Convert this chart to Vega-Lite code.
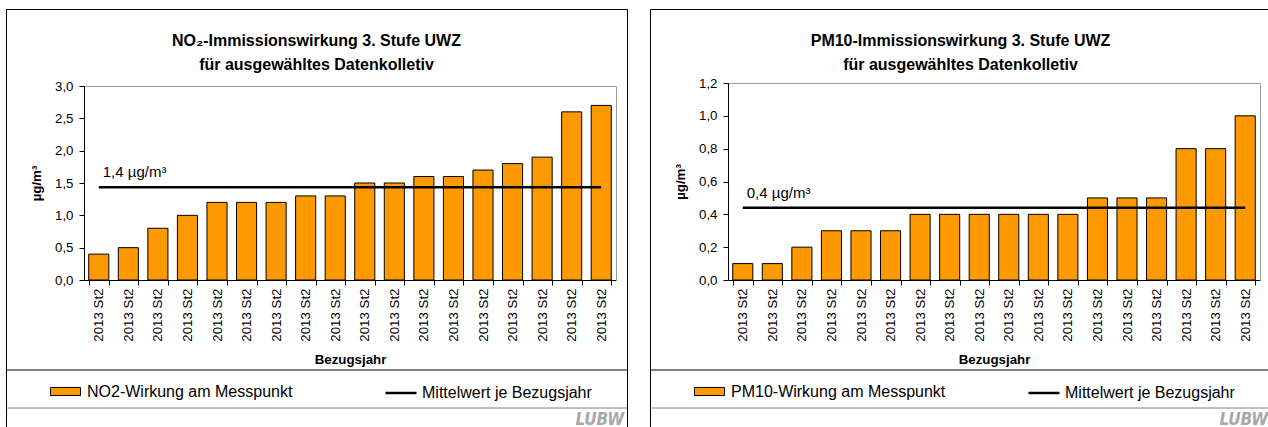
{
  "$schema": "https://vega.github.io/schema/vega-lite/v6.json",
  "padding": {"left": -2, "top": 8, "right": 0, "bottom": 0},
  "background": "white",
  "spacing": 14,
  "datasets": {
    "no2": [
      {"id": "2013 St2 #01", "label": "2013 St2", "v": 0.4},
      {"id": "2013 St2 #02", "label": "2013 St2", "v": 0.5},
      {"id": "2013 St2 #03", "label": "2013 St2", "v": 0.8},
      {"id": "2013 St2 #04", "label": "2013 St2", "v": 1.0},
      {"id": "2013 St2 #05", "label": "2013 St2", "v": 1.2},
      {"id": "2013 St2 #06", "label": "2013 St2", "v": 1.2},
      {"id": "2013 St2 #07", "label": "2013 St2", "v": 1.2},
      {"id": "2013 St2 #08", "label": "2013 St2", "v": 1.3},
      {"id": "2013 St2 #09", "label": "2013 St2", "v": 1.3},
      {"id": "2013 St2 #10", "label": "2013 St2", "v": 1.5},
      {"id": "2013 St2 #11", "label": "2013 St2", "v": 1.5},
      {"id": "2013 St2 #12", "label": "2013 St2", "v": 1.6},
      {"id": "2013 St2 #13", "label": "2013 St2", "v": 1.6},
      {"id": "2013 St2 #14", "label": "2013 St2", "v": 1.7},
      {"id": "2013 St2 #15", "label": "2013 St2", "v": 1.8},
      {"id": "2013 St2 #16", "label": "2013 St2", "v": 1.9},
      {"id": "2013 St2 #17", "label": "2013 St2", "v": 2.6},
      {"id": "2013 St2 #18", "label": "2013 St2", "v": 2.7}
    ],
    "pm10": [
      {"id": "2013 St2 #01", "label": "2013 St2", "v": 0.1},
      {"id": "2013 St2 #02", "label": "2013 St2", "v": 0.1},
      {"id": "2013 St2 #03", "label": "2013 St2", "v": 0.2},
      {"id": "2013 St2 #04", "label": "2013 St2", "v": 0.3},
      {"id": "2013 St2 #05", "label": "2013 St2", "v": 0.3},
      {"id": "2013 St2 #06", "label": "2013 St2", "v": 0.3},
      {"id": "2013 St2 #07", "label": "2013 St2", "v": 0.4},
      {"id": "2013 St2 #08", "label": "2013 St2", "v": 0.4},
      {"id": "2013 St2 #09", "label": "2013 St2", "v": 0.4},
      {"id": "2013 St2 #10", "label": "2013 St2", "v": 0.4},
      {"id": "2013 St2 #11", "label": "2013 St2", "v": 0.4},
      {"id": "2013 St2 #12", "label": "2013 St2", "v": 0.4},
      {"id": "2013 St2 #13", "label": "2013 St2", "v": 0.5},
      {"id": "2013 St2 #14", "label": "2013 St2", "v": 0.5},
      {"id": "2013 St2 #15", "label": "2013 St2", "v": 0.5},
      {"id": "2013 St2 #16", "label": "2013 St2", "v": 0.8},
      {"id": "2013 St2 #17", "label": "2013 St2", "v": 0.8},
      {"id": "2013 St2 #18", "label": "2013 St2", "v": 1.0}
    ],
    "no2mean": [
      {"from": "2013 St2 #01", "to": "2013 St2 #18", "mean": 1.433, "text": "1,4 µg/m³"}
    ],
    "pm10mean": [
      {"from": "2013 St2 #01", "to": "2013 St2 #18", "mean": 0.44, "text": "0,4 µg/m³"}
    ],
    "logo": [
      {"at": "2013 St2 #18", "logo": "LUBW"}
    ]
  },
  "hconcat": [
    {
      "width": 621,
      "height": 420,
      "title": {"text": ["NO₂-Immissionswirkung 3. Stufe UWZ", "für ausgewähltes Datenkolletiv"]},
      "resolve": {"axis": {"x": "independent", "y": "independent"}},
      "layer": [
        {
          "data": {"name": "no2"},
          "mark": {"type": "bar", "stroke": "black", "strokeWidth": 1},
          "encoding": {
            "x": {"field": "id", "type": "ordinal",
              "scale": {"range": [78, 610], "paddingInner": 0.32, "paddingOuter": 0.16},
              "axis": {"orient": "bottom", "offset": -149, "labelAngle": -90, "tickBand": "extent", "tickSize": 5, "labelPadding": 3,
                "labelExpr": "split(datum.label, ' #')[0]", "title": "Bezugsjahr", "titlePadding": 11}},
            "y": {"field": "v", "type": "quantitative",
              "scale": {"domain": [0, 3], "range": [271, 77], "nice": false, "zero": false},
              "axis": {"orient": "left", "offset": -78, "values": [0, 0.5, 1, 1.5, 2, 2.5, 3], "tickSize": 5, "labelPadding": 6,
                "labelExpr": "replace(format(datum.value, '.1f'), '.', ',')", "title": "µg/m³", "titlePadding": 11}},
            "fill": {"datum": "NO2-Wirkung am Messpunkt", "scale": {"range": ["#FF9900"]},
              "legend": {"orient": "none", "legendX": 44, "legendY": 367, "title": null, "padding": 0, "labelLimit": 400,
                "symbolType": "M-1,-0.27H1V0.27H-1Z", "symbolSize": 900, "symbolStrokeColor": "black", "symbolStrokeWidth": 1, "labelOffset": 6}}
          }
        },
        {
          "data": {"name": "no2mean"},
          "mark": {"type": "rule", "strokeWidth": 2.5},
          "encoding": {
            "x": {"field": "from", "type": "ordinal",
              "axis": {"orient": "top", "offset": -77, "labels": false, "ticks": false, "domainColor": "#999999", "title": null}},
            "x2": {"field": "to"},
            "y": {"field": "mean", "type": "quantitative",
              "axis": {"orient": "right", "offset": -11, "labels": false, "ticks": false, "domainColor": "#999999", "title": null}},
            "stroke": {"datum": "Mittelwert je Bezugsjahr", "scale": {"range": ["black"]},
              "legend": {"orient": "none", "legendX": 378, "legendY": 367, "title": null, "padding": 0, "labelLimit": 400,
                "symbolType": "stroke", "symbolSize": 961, "symbolStrokeWidth": 2.5, "labelOffset": 4}}
          }
        },
        {
          "data": {"name": "no2mean"},
          "mark": {"type": "text", "align": "left", "baseline": "middle", "dx": 4, "dy": -15, "fontSize": 15, "font": "Liberation Sans", "color": "black"},
          "encoding": {
            "x": {"field": "from", "type": "ordinal", "axis": null},
            "y": {"field": "mean", "type": "quantitative", "axis": null},
            "text": {"field": "text"}
          }
        },
        {
          "data": {"values": [{}]},
          "mark": {"type": "rule", "color": "black", "strokeWidth": 1},
          "encoding": {"y": {"datum": -1.3918, "axis": null}}
        },
        {
          "data": {"values": [{}]},
          "mark": {"type": "rule", "color": "#808080", "strokeWidth": 1},
          "encoding": {"y": {"datum": -1.9794, "axis": null}}
        },
        {
          "data": {"name": "logo"},
          "mark": {"type": "text", "align": "right", "baseline": "alphabetic", "dx": 23, "fontSize": 17, "font": "DejaVu Sans Condensed, Liberation Sans Narrow, Liberation Sans", "fontStyle": "italic", "fontWeight": "bold", "color": "#A8A8A8"},
          "encoding": {
            "x": {"field": "at", "type": "ordinal", "axis": null},
            "y": {"datum": -2.2423, "axis": null},
            "text": {"field": "logo"}
          }
        }
      ]
    },
    {
      "width": 621,
      "height": 420,
      "title": {"text": ["PM10-Immissionswirkung 3. Stufe UWZ", "für ausgewähltes Datenkolletiv"]},
      "resolve": {"axis": {"x": "independent", "y": "independent"}},
      "layer": [
        {
          "data": {"name": "pm10"},
          "mark": {"type": "bar", "stroke": "black", "strokeWidth": 1},
          "encoding": {
            "x": {"field": "id", "type": "ordinal",
              "scale": {"range": [78, 610], "paddingInner": 0.32, "paddingOuter": 0.16},
              "axis": {"orient": "bottom", "offset": -149, "labelAngle": -90, "tickBand": "extent", "tickSize": 5, "labelPadding": 3,
                "labelExpr": "split(datum.label, ' #')[0]", "title": "Bezugsjahr", "titlePadding": 11}},
            "y": {"field": "v", "type": "quantitative",
              "scale": {"domain": [0, 1.2], "range": [271, 74], "nice": false, "zero": false},
              "axis": {"orient": "left", "offset": -78, "values": [0, 0.2, 0.4, 0.6, 0.8, 1.0, 1.2], "tickSize": 5, "labelPadding": 6,
                "labelExpr": "replace(format(datum.value, '.1f'), '.', ',')", "title": "µg/m³", "titlePadding": 11}},
            "fill": {"datum": "PM10-Wirkung am Messpunkt", "scale": {"range": ["#FF9900"]},
              "legend": {"orient": "none", "legendX": 44, "legendY": 367, "title": null, "padding": 0, "labelLimit": 400,
                "symbolType": "M-1,-0.27H1V0.27H-1Z", "symbolSize": 900, "symbolStrokeColor": "black", "symbolStrokeWidth": 1, "labelOffset": 6}}
          }
        },
        {
          "data": {"name": "pm10mean"},
          "mark": {"type": "rule", "strokeWidth": 2.5},
          "encoding": {
            "x": {"field": "from", "type": "ordinal",
              "axis": {"orient": "top", "offset": -74, "labels": false, "ticks": false, "domainColor": "#999999", "title": null}},
            "x2": {"field": "to"},
            "y": {"field": "mean", "type": "quantitative",
              "axis": {"orient": "right", "offset": -11, "labels": false, "ticks": false, "domainColor": "#999999", "title": null}},
            "stroke": {"datum": "Mittelwert je Bezugsjahr", "scale": {"range": ["black"]},
              "legend": {"orient": "none", "legendX": 377, "legendY": 367, "title": null, "padding": 0, "labelLimit": 400,
                "symbolType": "stroke", "symbolSize": 961, "symbolStrokeWidth": 2.5, "labelOffset": 4}}
          }
        },
        {
          "data": {"name": "pm10mean"},
          "mark": {"type": "text", "align": "left", "baseline": "middle", "dx": 4, "dy": -15, "fontSize": 15, "font": "Liberation Sans", "color": "black"},
          "encoding": {
            "x": {"field": "from", "type": "ordinal", "axis": null},
            "y": {"field": "mean", "type": "quantitative", "axis": null},
            "text": {"field": "text"}
          }
        },
        {
          "data": {"values": [{}]},
          "mark": {"type": "rule", "color": "black", "strokeWidth": 1},
          "encoding": {"y": {"datum": -0.5482, "axis": null}}
        },
        {
          "data": {"values": [{}]},
          "mark": {"type": "rule", "color": "#808080", "strokeWidth": 1},
          "encoding": {"y": {"datum": -0.7797, "axis": null}}
        },
        {
          "data": {"name": "logo"},
          "mark": {"type": "text", "align": "right", "baseline": "alphabetic", "dx": 23, "fontSize": 17, "font": "DejaVu Sans Condensed, Liberation Sans Narrow, Liberation Sans", "fontStyle": "italic", "fontWeight": "bold", "color": "#A8A8A8"},
          "encoding": {
            "x": {"field": "at", "type": "ordinal", "axis": null},
            "y": {"datum": -0.8832, "axis": null},
            "text": {"field": "logo"}
          }
        }
      ]
    }
  ],
  "resolve": {
    "scale": {"fill": "independent", "stroke": "independent"},
    "legend": {"fill": "independent", "stroke": "independent"}
  },
  "config": {
    "font": "Liberation Sans",
    "view": {"stroke": "black", "strokeWidth": 1, "fill": "white"},
    "title": {"font": "Liberation Sans", "fontSize": 16, "fontWeight": "bold", "color": "black", "offset": -64, "lineHeight": 24, "anchor": "middle", "frame": "group"},
    "axis": {"labelFont": "Liberation Sans", "labelFontSize": 13.3, "labelColor": "black", "titleFont": "Liberation Sans", "titleFontSize": 13.3, "titleFontWeight": "bold", "titleColor": "black", "domainColor": "black", "tickColor": "black", "grid": false},
    "legend": {"labelFont": "Liberation Sans", "labelFontSize": 16, "labelColor": "black"}
  }
}
